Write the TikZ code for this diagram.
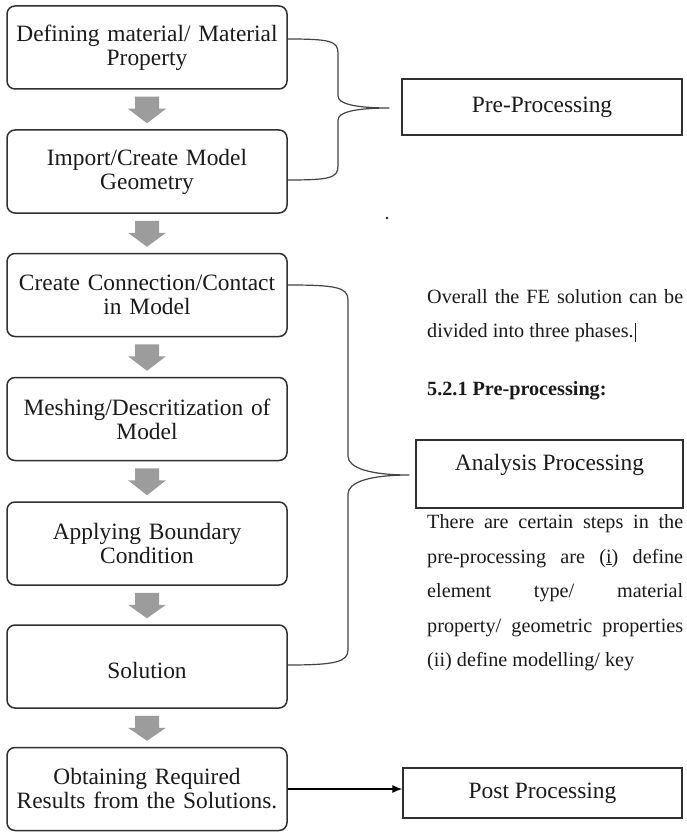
\documentclass[tikz,border=0pt]{standalone}
\usepackage{fontspec}
\setmainfont{Liberation Serif}
\usetikzlibrary{calc,arrows.meta}
\definecolor{boxline}{HTML}{303030}
\definecolor{braceline}{HTML}{444444}
\definecolor{arrowgray}{HTML}{9C9C9C}
\definecolor{txt}{HTML}{1A1A1A}
\newcommand\blockarrow[2]{%
  \fill[arrowgray] ($(#1.south)+(-12,7)$) -- ++(24,0) -- ++(0,12) -- ++(7,0)
    -- ($(#2.north)+(0,-6)$) -- ($(#1.south)+(-19,19)$) -- ($(#1.south)+(-12,19)$) -- cycle;}
\begin{document}
\begin{tikzpicture}[x=1pt,y=-1pt,
  stepbox/.style={draw=boxline, line width=1.5pt, rounded corners=8pt,
    minimum width=280pt, minimum height=83pt, text width=272pt, align=center,
    font=\fontsize{23.4}{24}\selectfont, text=txt, inner sep=0pt},
  phasebox/.style={draw=boxline, line width=1.4pt, align=center,
    font=\fontsize{23.4}{23}\selectfont, text=txt, inner sep=0pt},
  brace/.style={draw=braceline, line width=1.2pt},
  body/.style={font=\fontsize{20.2}{20}\selectfont, text=txt, anchor=base west, inner sep=0pt}]
\useasboundingbox (0,0) rectangle (686,832);
\fill[white] (0,0) rectangle (686,832);

% left column
\node[stepbox] (b1) at (147,47.5) {Defining material/ Material\\Property};
\node[stepbox] (b2) at (147,171.5) {Import/Create Model\\Geometry};
\node[stepbox] (b3) at (147,295) {Create Connection/Contact\\in Model};
\node[stepbox] (b4) at (147,419) {Meshing/Descritization of\\Model};
\node[stepbox] (b5) at (147,543.5) {Applying Boundary\\Condition};
\node[stepbox] (b6) at (147,666.5) {\mbox{}\\Solution};
\node[stepbox] (b7) at (147,789) {Obtaining Required\\Results from the Solutions.};

\blockarrow{b1}{b2}
\blockarrow{b2}{b3}
\blockarrow{b3}{b4}
\blockarrow{b4}{b5}
\blockarrow{b5}{b6}
\blockarrow{b6}{b7}

% phase boxes
\node[phasebox, minimum width=280pt, minimum height=56pt] (pre) at (542,107) {Pre-Processing};
\node[phasebox, minimum width=267pt, minimum height=68pt] (ana) at (549.5,474) {Analysis Processing\\\mbox{}};
\node[phasebox, minimum width=279pt, minimum height=50pt] (post) at (542.5,793) {Post Processing};

\coordinate (t1) at ($(pre.west)+(-12,1)$);
\coordinate (t2) at ($(ana.west)+(-6,1)$);

% braces
\draw[brace] ($(b1.east)+(0,-8.5)$) .. controls (330,39) and (338,41) .. (338,53)
  -- (338,96) .. controls (338,104) and (356,108) .. (t1)
  .. controls (356,108) and (338,112) .. (338,120)
  -- (338,166) .. controls (338,178) and (330,180) .. ($(b2.east)+(0,8.5)$);
\draw[brace] ($(b3.east)+(0,-10)$) .. controls (335,285) and (348,287) .. (348,300)
  -- (348,456) .. controls (348,468) and (370,475) .. (t2)
  .. controls (370,475) and (348,482) .. (348,494)
  -- (348,650) .. controls (348,662) and (335,665) .. ($(b6.east)+(0,-1.5)$);

% arrow to post processing
\draw[black, line width=1.3pt, -{Latex[length=10pt,width=8pt]}] (b7.east) -- (b7.east -| post.west);

% side text
\node[body] (p1) at (427,303) {\makebox[256pt][s]{Overall the FE solution can be}};
\node[body] (p2) at (427,337) {divided into three phases.};
\draw[txt, line width=0.8pt] ($(p2.base east)+(2,5)$) -- ++(0,-19);
\node[body] (h1) at (427,395) {\textbf{5.2.1 Pre-processing:}};
\node[body] (q1) at (427,528) {\makebox[256pt][s]{There are certain steps in the}};
\node[body] (q2) at (427,563) {\makebox[256pt][s]{pre-processing are (\underline{i}) define}};
\node[body] (q3) at (427,597) {\makebox[256pt][s]{element type/ material}};
\node[body] (q4) at (427,632) {\makebox[256pt][s]{property/ geometric properties}};
\node[body] (q5) at (427,666) {(ii) define modelling/ key};

\fill[txt] (387,218) circle (1.3pt);
\end{tikzpicture}
\end{document}
